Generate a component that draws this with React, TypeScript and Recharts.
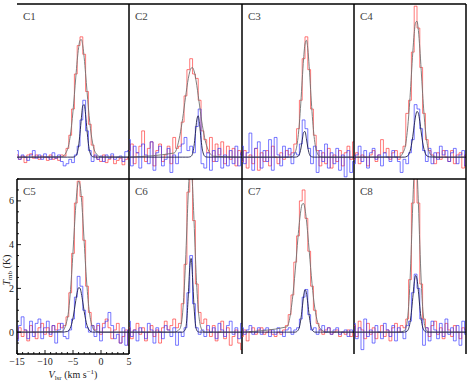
import React from 'react';
import { LineChart, Line, XAxis, YAxis } from 'recharts';

// velocity channels (km/s)
const V = [-15, -14.5, -14, -13.5, -13, -12.5, -12, -11.5, -11, -10.5, -10, -9.5, -9, -8.5, -8, -7.5,
  -7, -6.5, -6, -5.5, -5, -4.5, -4, -3.5, -3, -2.5, -2, -1.5, -1,
  -0.5, 0, 0.5, 1, 1.5, 2, 2.5, 3, 3.5, 4, 4.5, 5];

// velocities of the gaussian fit samples
const FIT_V = [-15, -7, -6, -5.5, -5, -4.75, -4.5, -4.25, -4, -3.75, -3.5, -3.25, -3, -2.75, -2.5, -2.25, -2, -1.5, -1, 0, 5];

const X_TICKS = [-15, -14, -13, -12, -11, -10, -9, -8, -7, -6, -5, -4, -3, -2, -1, 0, 1, 2, 3, 4, 5];
const X_LABELS = [-15, -10, -5, 0, 5];
const Y_TICKS = [-1, -0.5, 0, 0.5, 1, 1.5, 2, 2.5, 3, 3.5, 4, 4.5, 5, 5.5, 6, 6.5, 7];
const Y_LABELS = [0, 2, 4, 6];

const C1_RED = [0.1, -0.1, 0.05, -0.25, 0.1, 0.15, -0.05, 0.1, -0.1, 0.05, 0.0, -0.15, 0.1, -0.1, -0.05, -0.15,
  0.1, 0.05, 0.4, 1.0, 2.2, 3.8, 5.1, 5.5, 4.7, 3.0, 1.5, 0.55, 0.05,
  -0.1, -0.2, 0.1, -0.25, -0.1, 0.05, -0.3, -0.15, -0.05, -0.35, -0.1, 0];
const C1_BLUE = [0.3, -0.1, 0.1, 0.0, -0.15, 0.1, 0.3, -0.05, 0.1, -0.1, 0.15, 0.0, -0.1, 0.2, -0.05, 0.1,
  -0.2, -0.4, -0.3, -0.1, -0.25, 0.1, 0.5, 1.7, 2.6, 1.2, 0.3, -0.2, 0.1,
  -0.1, 0.05, -0.2, 0.1, -0.05, 0.15, -0.1, 0.0, 0.05, -0.2, 0.25, 0.3];
const C2_RED = [0.3, 0.6, -0.3, 0.2, 0.5, 1.2, -0.2, 0.4, 0.7, -0.4, 0.3, 0.6, -0.2, 0.1, 0.5, -0.3,
  0.9, 0.4, 0.5, 1.6, 2.8, 4.0, 4.5, 3.8, 3.6, 2.6, 1.2, 0.8, 0.2,
  0.9, -0.2, 0.6, 0.1, 0.7, -0.3, 0.5, -0.1, 0.4, -0.4, 0.3, 0.1];
const C2_BLUE = [0.8, -0.4, 0.5, 0.2, -0.5, 0.6, 0.1, -0.3, 0.7, -0.6, 0.2, 0.5, -0.4, -0.1, 0.4, -0.7,
  0.1, -0.3, 0.2, 0.6, 0.9, 0.3, 0.5, 0.2, 1.4, 2.2, -0.3, -0.5, 0.2,
  -0.6, 0.3, -0.2, 0.4, -0.5, 0.1, -0.4, 0.3, -0.3, 0.5, -0.4, 0.2];
const C3_RED = [-0.2, 0.3, -0.5, 0.1, -0.3, 0.4, -0.6, 0.2, -0.2, 0.3, -0.4, 0.5, 0.0, -0.3, 0.2, -0.1,
  0.3, 0.1, 0.2, 0.6, 1.3, 2.6, 4.5, 5.5, 4.0, 2.2, 1.0, 0.3, -0.4,
  0.2, -0.3, 0.4, -0.5, 0.1, -0.2, 0.3, -0.4, 0.2, 0.5, -0.1, 0.7];
const C3_BLUE = [0.5, -0.3, 0.2, 1.1, -0.6, 0.4, 0.7, -0.5, 0.3, -0.2, 0.8, -0.6, 0.9, 0.1, -0.4, 0.5,
  0.0, 0.4, -0.3, 0.2, 0.1, 0.6, 1.7, 1.3, 0.4, -0.3, 0.5, -0.7, 0.3,
  -0.2, 0.6, -0.5, 0.2, -0.3, 0.4, -0.6, 0.1, -0.9, 0.3, -0.7, -0.2];
const C4_RED = [-0.1, 0.2, -0.3, 0.1, 0.0, -0.4, 0.1, 0.3, -0.2, 0.1, 0.8, 0.2, 0.4, -0.1, 0.2, 0.3,
  -0.1, 0.2, 0.5, 2.0, 2.6, 4.8, 6.9, 5.9, 4.1, 2.0, 0.8, 0.3, 0.1,
  -0.3, 0.2, -0.1, 0.3, 0.0, -0.2, 0.3, -0.3, 0.1, 0.2, -0.5, 0.1];
const C4_BLUE = [-0.3, 0.1, 0.5, -0.2, 0.3, -0.5, 0.2, 0.4, -0.1, 0.1, -0.4, 0.2, 0.0, -0.2, 0.3, 0.0,
  -0.2, -0.7, -0.1, -0.3, 0.2, 0.8, 2.4, 2.2, 1.3, 0.3, -0.2, 0.4, -0.3,
  0.2, -0.1, 0.5, 0.1, 0.3, -0.2, 0.2, 0.4, -0.3, 0.1, 0.3, -0.4];
const C5_RED = [-0.3, 0.2, -0.2, 0.1, -0.4, 0.3, 0.0, -0.3, 0.2, 0.4, -0.1, 0.2, -0.2, 0.3, 0.1, 0.4,
  0.2, 0.3, 0.7, 1.8, 3.6, 5.9, 6.9, 6.2, 4.2, 2.1, 0.9, 0.3, 0.1,
  0.3, -0.1, 0.4, 0.6, 0.2, -0.3, 0.1, 0.4, -0.5, -0.2, 0.1, -0.6];
const C5_BLUE = [-0.4, 0.3, 0.7, 0.1, -0.3, 0.5, -0.2, 0.4, 0.6, -0.3, 0.2, 0.5, -0.1, 0.3, -0.5, 0.1,
  0.4, -0.2, -0.3, 0.1, 0.6, 1.6, 2.55, 2.1, 1.0, 0.2, 0.0, 0.3, -0.2,
  0.4, -0.4, 0.2, 0.5, 0.9, 0.3, -0.3, -0.1, -0.5, 0.2, -0.6, 0.1];
const C6_RED = [0.2, -0.3, 0.1, 0.4, -0.1, 0.2, -0.4, 0.0, 0.3, -0.2, 0.1, -0.5, 0.2, 0.5, 0.1, 0.3,
  0.6, 0.2, 0.4, 1.3, 3.1, 6.4, 7.6, 5.1, 2.2, 0.9, 0.4, 0.6, 0.1,
  -0.2, 0.3, -0.4, 0.0, 0.5, -0.3, 0.2, -0.6, -0.2, 0.1, -0.5, -0.8];
const C6_BLUE = [0.5, -0.2, 0.1, -0.4, 0.2, 0.0, -0.3, 0.4, 0.1, -0.5, 0.2, 0.0, -0.3, 0.3, 0.1, -0.2,
  0.2, -0.6, 0.0, -0.2, 0.2, 1.8, 3.5, 1.3, 0.2, -0.1, 0.1, -0.2, 0.3,
  0.0, 0.2, -0.3, 0.4, 0.1, -0.2, 0.3, 0.5, -0.1, 0.2, -0.3, 0.4];
const C7_RED = [-0.2, 0.1, -0.4, 0.0, 0.2, -0.1, 0.1, 0.2, -0.1, 0.0, 0.1, -0.1, -0.2, 0.0, -0.1, 0.1,
  0.3, 0.8, 1.7, 3.2, 4.4, 6.0, 6.5, 5.2, 3.7, 2.1, 1.0, 0.4, 0.1,
  -0.1, 0.1, 0.2, -0.1, 0.0, 0.1, -0.2, 0.0, -0.1, 0.1, -0.2, 0.0];
const C7_BLUE = [0.2, -0.1, 0.1, 0.3, -0.1, 0.0, 0.2, -0.1, 0.1, 0.2, -0.2, 0.1, -0.1, 0.2, 0.0, -0.2,
  0.1, 0.2, -0.1, 0.1, 0.2, 0.6, 1.6, 1.95, 0.8, 0.1, 0.2, -0.1, 0.1,
  0.3, 0.0, 0.2, -0.1, 0.1, 0.2, -0.1, 0.0, 0.1, -0.2, 0.1, 0.0];
const C8_RED = [0.3, -0.2, 0.5, 0.1, -0.3, 0.4, -0.1, 0.2, -0.3, 0.0, 0.3, -0.2, 0.1, -0.4, 0.2, 0.4,
  0.0, 0.3, 0.2, 0.6, 2.4, 5.9, 8.0, 5.9, 2.2, 0.6, 0.2, -0.2, 0.3,
  0.5, -0.1, 0.2, -0.3, 0.4, 0.1, -0.2, 0.3, 0.0, -0.3, 0.2, 0.1];
const C8_BLUE = [0.4, -0.3, 0.2, -0.8, 0.6, -0.2, 0.1, -0.5, 0.3, 0.0, -0.3, 0.4, 0.1, -0.2, 0.3, -0.4,
  0.2, 0.0, -0.3, 0.3, 0.5, 1.8, 2.65, 2.0, 0.6, -0.6, 0.2, -0.4, 0.5,
  0.1, -0.3, 0.4, -0.2, 0.6, -0.1, 0.2, -0.4, 0.3, -0.6, 0.5, -0.1];

// gaussian fits, sampled at FIT_V
const C1_RED_FIT = [0, 0.02, 0.34, 0.95, 2.10, 2.86, 3.66, 4.41, 5.00, 5.34, 5.37, 5.09, 4.54, 3.81, 3.02, 2.25, 1.58, 0.65, 0.21, 0.01, 0];
const C1_BLUE_FIT = [0, 0, 0, 0, 0, 0.01, 0.06, 0.19, 0.51, 1.09, 1.80, 2.35, 2.40, 1.94, 1.23, 0.61, 0.24, 0.02, 0, 0, 0];
const C2_RED_FIT = [0, 0.19, 0.99, 1.77, 2.73, 3.19, 3.60, 3.90, 4.07, 4.09, 3.95, 3.67, 3.28, 2.82, 2.34, 1.86, 1.43, 0.75, 0.34, 0.04, 0];
const C2_BLUE_FIT = [0, 0, 0, 0, 0, 0, 0, 0.01, 0.04, 0.16, 0.49, 1.08, 1.70, 1.89, 1.48, 0.82, 0.32, 0.02, 0, 0, 0];
const C3_RED_FIT = [0, 0, 0.03, 0.21, 0.89, 1.56, 2.47, 3.52, 4.50, 5.17, 5.34, 4.95, 4.13, 3.09, 2.08, 1.26, 0.68, 0.15, 0.02, 0, 0];
const C3_BLUE_FIT = [0, 0, 0, 0, 0.03, 0.13, 0.37, 0.77, 1.13, 1.17, 0.85, 0.44, 0.16, 0.04, 0.01, 0, 0, 0, 0, 0, 0];
const C4_RED_FIT = [0, 0.01, 0.34, 1.13, 2.72, 3.76, 4.79, 5.65, 6.16, 6.21, 5.79, 4.98, 3.97, 2.92, 1.99, 1.25, 0.73, 0.19, 0.04, 0, 0];
const C4_BLUE_FIT = [0, 0, 0, 0.04, 0.26, 0.54, 0.95, 1.45, 1.88, 2.09, 2.00, 1.64, 1.15, 0.69, 0.36, 0.16, 0.06, 0.01, 0, 0, 0];
const C5_RED_FIT = [0, 0.03, 0.62, 1.74, 3.67, 4.78, 5.80, 6.55, 6.89, 6.74, 6.14, 5.21, 4.11, 3.02, 2.07, 1.32, 0.78, 0.22, 0.05, 0, 0];
const C5_BLUE_FIT = [0, 0, 0.03, 0.18, 0.64, 1.03, 1.45, 1.82, 2.03, 2.01, 1.76, 1.37, 0.94, 0.58, 0.31, 0.15, 0.06, 0, 0, 0, 0];
const C6_RED_FIT = [0, 0, 0.15, 0.91, 3.16, 4.81, 6.39, 7.42, 7.52, 6.66, 5.15, 3.47, 2.05, 1.06, 0.48, 0.19, 0.06, 0, 0, 0, 0];
const C6_BLUE_FIT = [0, 0, 0, 0, 0.15, 0.64, 1.70, 2.96, 3.37, 2.50, 1.21, 0.38, 0.08, 0.01, 0, 0, 0, 0, 0, 0, 0];
const C7_RED_FIT = [0, 0.24, 1.50, 2.80, 4.34, 5.02, 5.55, 5.85, 5.88, 5.63, 5.14, 4.48, 3.72, 2.95, 2.23, 1.60, 1.10, 0.45, 0.15, 0.01, 0];
const C7_BLUE_FIT = [0, 0, 0, 0, 0.08, 0.23, 0.57, 1.09, 1.64, 1.94, 1.81, 1.32, 0.76, 0.34, 0.12, 0.03, 0, 0, 0, 0, 0];
const C8_RED_FIT = [0, 0, 0.06, 0.50, 2.33, 4.00, 5.88, 7.41, 8.00, 7.41, 5.88, 4.00, 2.33, 1.17, 0.50, 0.18, 0.06, 0, 0, 0, 0];
const C8_BLUE_FIT = [0, 0, 0, 0.05, 0.43, 0.91, 1.58, 2.24, 2.59, 2.43, 1.87, 1.16, 0.59, 0.24, 0.08, 0.02, 0, 0, 0, 0, 0];

const PANELS = [
  { name: 'C1', red: C1_RED, blue: C1_BLUE, redFit: C1_RED_FIT, blueFit: C1_BLUE_FIT },
  { name: 'C2', red: C2_RED, blue: C2_BLUE, redFit: C2_RED_FIT, blueFit: C2_BLUE_FIT },
  { name: 'C3', red: C3_RED, blue: C3_BLUE, redFit: C3_RED_FIT, blueFit: C3_BLUE_FIT },
  { name: 'C4', red: C4_RED, blue: C4_BLUE, redFit: C4_RED_FIT, blueFit: C4_BLUE_FIT },
  { name: 'C5', red: C5_RED, blue: C5_BLUE, redFit: C5_RED_FIT, blueFit: C5_BLUE_FIT },
  { name: 'C6', red: C6_RED, blue: C6_BLUE, redFit: C6_RED_FIT, blueFit: C6_BLUE_FIT },
  { name: 'C7', red: C7_RED, blue: C7_BLUE, redFit: C7_RED_FIT, blueFit: C7_BLUE_FIT },
  { name: 'C8', red: C8_RED, blue: C8_BLUE, redFit: C8_RED_FIT, blueFit: C8_BLUE_FIT },
];

// panel edges in page pixels
const COL_X = [17, 129, 242, 354, 466];
const ROW_Y = [4, 179, 354];
const PAD = 2; // keeps the frame lines from being clipped by the svg edge
const FONT = '"Liberation Serif", "DejaVu Serif", serif';
const BORDER = { strokeWidth: 1.5 };

const fmt = (v: number) => (v < 0 ? `\u2212${-v}` : `${v}`);

// inward tick marks, with labels only on the labelled panel
const XTick = ({ x, y, payload, labels }: any) => {
  const v = payload.value;
  const len = v % 5 === 0 ? 4 : 2;
  return (
    <g>
      <line x1={x} y1={y} x2={x} y2={y - len} stroke="#000" strokeWidth={0.9} />
      {labels && X_LABELS.includes(v) && (
        <text x={x} y={y + 11} textAnchor="middle" fontSize={10} fill="#222" fontFamily={FONT}>{fmt(v)}</text>
      )}
    </g>
  );
};

const YTick = ({ x, y, payload, labels }: any) => {
  const v = payload.value;
  const len = v % 2 === 0 ? 4 : 2;
  return (
    <g>
      <line x1={x} y1={y} x2={x + len} y2={y} stroke="#000" strokeWidth={0.9} />
      {labels && Y_LABELS.includes(v) && (
        <text x={x - 3} y={y + 3.5} textAnchor="end" fontSize={10} fill="#222" fontFamily={FONT}>{fmt(v)}</text>
      )}
    </g>
  );
};

type P = (typeof PANELS)[number];

function Panel({ p, col, row, labels }: { p: P; col: number; row: number; labels: boolean }) {
  const left = COL_X[col];
  const top = ROW_Y[row];
  const pw = COL_X[col + 1] - left;
  const ph = ROW_Y[row + 1] - top;
  const lw = labels ? 17 : 0;
  const lh = labels ? 34 : 0;
  const rm = labels ? 4 : 0;
  const data = V.map((v, i) => ({ v, red: p.red[i], blue: p.blue[i] }));
  const fit = FIT_V.map((v, i) => ({ v, red: p.redFit[i], blue: p.blueFit[i] }));
  const ox = PAD + lw; // plot origin inside the svg
  return (
    <div style={{ position: 'absolute', left: left - ox, top: top - PAD }}>
      <LineChart width={pw + lw + rm + 2 * PAD} height={ph + lh + 2 * PAD}
        margin={{ top: PAD, right: PAD + rm, bottom: PAD, left: PAD }}>
        <XAxis type="number" dataKey="v" domain={[-15, 5]} allowDataOverflow ticks={X_TICKS} interval={0}
          height={lh} tickSize={0} tickMargin={0} tickLine={false}
          tick={(props: any) => <XTick {...props} labels={labels} />}
          stroke="#000" axisLine={BORDER} />
        <XAxis xAxisId="top" orientation="top" type="number" domain={[-15, 5]} mirror tick={false} tickLine={false}
          stroke="#000" axisLine={BORDER} />
        <YAxis type="number" domain={[-1, 7]} allowDataOverflow ticks={Y_TICKS} interval={0}
          width={lw} tickSize={0} tickMargin={0} tickLine={false}
          tick={(props: any) => <YTick {...props} labels={labels} />}
          stroke="#000" axisLine={BORDER} />
        <YAxis yAxisId="right" orientation="right" type="number" domain={[-1, 7]} mirror tick={false}
          tickLine={false} stroke="#000" axisLine={BORDER} />
        <Line data={data} dataKey="red" type="step" stroke="#ff3030" strokeOpacity={0.65} strokeWidth={1}
          dot={false} activeDot={false} isAnimationActive={false} />
        <Line data={data} dataKey="blue" type="step" stroke="#3030ff" strokeOpacity={0.65} strokeWidth={1}
          dot={false} activeDot={false} isAnimationActive={false} />
        <Line data={fit} dataKey="red" type="monotone" stroke="#707070" strokeWidth={0.9}
          dot={false} activeDot={false} isAnimationActive={false} />
        <Line data={fit} dataKey="blue" type="monotone" stroke="#1c1c48" strokeWidth={0.9}
          dot={false} activeDot={false} isAnimationActive={false} />
        <text x={ox + 6} y={PAD + 16} fontSize={11} fill="#444" fontFamily={FONT}>{p.name}</text>
        {labels && (
          <text x={PAD + 10} y={PAD + 91} fontSize={10} fill="#222" fontFamily={FONT} textAnchor="middle"
            transform={`rotate(-90, ${PAD + 10}, ${PAD + 91})`}>
            <tspan fontStyle="italic">T</tspan>
            <tspan fontSize={7} dy={2}>mb</tspan>
            <tspan dy={-2}> (K)</tspan>
          </text>
        )}
        {labels && (
          <text x={ox + 56} y={PAD + 199} fontSize={10} fill="#222" fontFamily={FONT} textAnchor="middle">
            <tspan fontStyle="italic">V</tspan>
            <tspan fontSize={7} dy={2}>lsr</tspan>
            <tspan dy={-2}> (km s</tspan>
            <tspan fontSize={7} dy={-4}>{'\u22121'}</tspan>
            <tspan dy={4}>)</tspan>
          </text>
        )}
      </LineChart>
    </div>
  );
}

export default function App() {
  return (
    <div style={{ position: 'absolute', left: 0, top: 0, width: 471, height: 388, background: '#fff', fontFamily: FONT }}>
      {PANELS.map((p, i) => (
        <Panel key={p.name} p={p} col={i % 4} row={Math.floor(i / 4)} labels={i === 4} />
      ))}
    </div>
  );
}
